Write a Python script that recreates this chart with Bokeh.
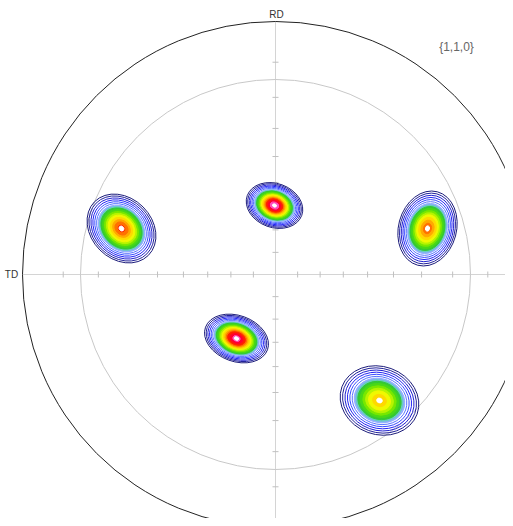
import math
from bokeh.plotting import figure
from bokeh.models import Range1d, ColumnDataSource
from bokeh.embed import file_html
from bokeh.resources import INLINE
from bokeh.core.properties import value

# ---- data ----
# poles (projection plane, px units relative to centre, y up)
pole_x = [-1, -154, 152, -39, 104]
pole_y = [69, 46, 46, -64, -126]
pole_a = [29, 38, 38, 33, 40]      # outer contour semi-major
pole_b = [22, 30.5, 29, 23, 34]    # outer contour semi-minor
pole_angle = [-20, -45, 75, -20, -20]
pole_peak = [1.0, 0.78, 0.74, 0.97, 0.62]

# contour levels (fraction of max intensity) and colours
line_levels = [0.04, 0.055, 0.075, 0.10, 0.13, 0.165]
line_colors = ["#1c1c7a", "#22229a", "#2020d0", "#2424f4", "#3a4cff", "#5a74ff"]
fill_levels = [0.20, 0.235, 0.27, 0.32, 0.38, 0.44, 0.50, 0.57, 0.64, 0.70, 0.76, 0.85, 0.93]
fill_colors = ["#90acff", "#68ccc0", "#34c834", "#48d818", "#78e800", "#b8f400",
               "#f0f800", "#ffd800", "#ffa800", "#ff7000", "#ff2000", "#ff0030", "#ff50c0"]

tick_angles = [10, 20, 30, 40, 50, 60, 70, 80]
R_OUT = 253
R_INNER = 195
labels = ["RD", "TD", "{1,1,0}"]

# ---- figure ----
W, H = 505, 518
p = figure(width=W, height=H, output_backend="svg", toolbar_location=None,
           x_range=Range1d(-275, 230), y_range=Range1d(-244, 274),
           x_axis_type=None, y_axis_type=None, min_border=0)
p.grid.visible = False
p.outline_line_color = None
p.background_fill_color = "white"
p.border_fill_color = "white"

# axes lines
p.segment(x0=[-R_OUT, 0], y0=[0, -R_OUT], x1=[R_OUT, 0], y1=[0, R_OUT],
          line_color="#d4d4d4", line_width=1)

# ticks (stereographic positions)
tx0, ty0, tx1, ty1 = [], [], [], []
for t in tick_angles:
    r = R_OUT * math.tan(math.radians(t) / 2)
    for s in (-1, 1):
        tx0.append(s * r); tx1.append(s * r); ty0.append(-3); ty1.append(3)
        tx0.append(-3); tx1.append(3); ty0.append(s * r); ty1.append(s * r)
p.segment(x0=tx0, y0=ty0, x1=tx1, y1=ty1, line_color="#c0c0c0", line_width=1)

# inner reference circle
p.ellipse(x=0, y=0, width=2 * R_INNER, height=2 * R_INNER, fill_color=None,
          line_color="#c8c8c8", line_width=1)

# contours
lx, ly, lw, lh, la, lc = [], [], [], [], [], []
fx, fy, fw, fh, fa, fc = [], [], [], [], [], []
for i in range(len(pole_x)):
    P = pole_peak[i]
    base = math.log(P / line_levels[0])
    for L, c in zip(line_levels, line_colors):
        if L >= P:
            continue
        f = math.sqrt(math.log(P / L) / base)
        lx.append(pole_x[i]); ly.append(pole_y[i])
        lw.append(2 * pole_a[i] * f); lh.append(2 * pole_b[i] * f)
        la.append(math.radians(pole_angle[i])); lc.append(c)
    for L, c in zip(fill_levels, fill_colors):
        if L >= P:
            continue
        f = math.sqrt(math.log(P / L) / base)
        fx.append(pole_x[i]); fy.append(pole_y[i])
        fw.append(2 * pole_a[i] * f); fh.append(2 * pole_b[i] * f)
        fa.append(math.radians(pole_angle[i])); fc.append(c)
    # white peak spot
    fx.append(pole_x[i]); fy.append(pole_y[i])
    fw.append(2 * pole_a[i] * 0.07); fh.append(2 * pole_b[i] * 0.07)
    fa.append(math.radians(pole_angle[i])); fc.append("#ffffff")

p.ellipse(x="x", y="y", width="w", height="h", angle="a", line_color="c",
          fill_color=None, line_width=1,
          source=ColumnDataSource(dict(x=lx, y=ly, w=lw, h=lh, a=la, c=lc)))
p.ellipse(x="x", y="y", width="w", height="h", angle="a", line_color="c",
          fill_color="c", line_width=1,
          source=ColumnDataSource(dict(x=fx, y=fy, w=fw, h=fh, a=fa, c=fc)))

# outer circle
p.ellipse(x=0, y=0, width=2 * R_OUT, height=2 * R_OUT, fill_color=None,
          line_color="#222222", line_width=1)

# labels
p.text(x=[1], y=[260], text=[labels[0]], text_font=value("Liberation Sans"),
       text_font_size="10px", text_color="#333333", text_align="center",
       text_baseline="middle")
p.text(x=[-264], y=[0], text=[labels[1]], text_font=value("Liberation Sans"),
       text_font_size="10px", text_color="#333333", text_align="center",
       text_baseline="middle")
p.text(x=[181], y=[228], text=[labels[2]], text_font=value("Liberation Sans"),
       text_font_size="12px", text_color="#666666", text_align="center",
       text_baseline="middle")

open("out.html", "w").write(file_html(p, INLINE))
